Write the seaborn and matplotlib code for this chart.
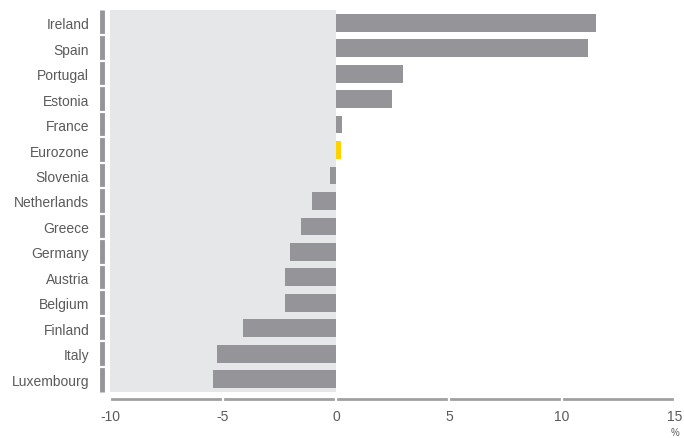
import numpy as np
import pandas as pd
import matplotlib
matplotlib.use("Agg")
import matplotlib.pyplot as plt
import seaborn as sns

countries = ["Ireland", "Spain", "Portugal", "Estonia", "France", "Eurozone",
             "Slovenia", "Netherlands", "Greece", "Germany", "Austria",
             "Belgium", "Finland", "Italy", "Luxembourg"]
values = [11.5, 11.15, 2.95, 2.5, 0.27, 0.2, -0.27, -1.06, -1.55, -2.03,
          -2.25, -2.25, -4.12, -5.27, -5.45]
xticks = [-10, -5, 0, 5, 10, 15]

GREY = "#959599"
YELLOW = "#ffd200"
SHADE = "#e6e7e8"
TEXT = "#5a5a5a"

df = pd.DataFrame({"country": countries, "value": values})
palette = {c: (YELLOW if c == "Eurozone" else GREY) for c in countries}

sns.set_style("white")
plt.rcParams["font.family"] = ["Liberation Sans", "DejaVu Sans"]

fig = plt.figure(figsize=(6.84, 4.39), dpi=100)
ax = fig.add_axes([0.1608, 0.1048, 0.8260, 0.8702])

ax.axvspan(-10, 0, color=SHADE, zorder=0, lw=0)
sns.barplot(data=df, y="country", x="value", hue="country", palette=palette,
            legend=False, orient="h", width=0.7, saturation=1, linewidth=0,
            ax=ax, zorder=2)

ax.set_xlim(-10, 15)
ax.set_ylim(len(countries) - 0.5, -0.5)
ax.set_xticks(xticks)
ax.set_xticklabels([str(t) for t in xticks])
ax.set_xlabel("")
ax.set_ylabel("")

for s in ["top", "right"]:
    ax.spines[s].set_visible(False)
ax.spines["bottom"].set_position(("outward", 5))
ax.spines["bottom"].set_color("#a0a0a4")
ax.spines["bottom"].set_linewidth(2)
ax.spines["bottom"].set_capstyle("butt")
ax.spines["left"].set_position(("outward", 6))
ax.spines["left"].set_color(GREY)
ax.spines["left"].set_linewidth(3.5)
ax.spines["left"].set_capstyle("butt")
# spines under the axis so the white ticks cut gaps into them
for s in ax.spines.values():
    s.set_zorder(1)
ax.xaxis.set_zorder(3)
ax.yaxis.set_zorder(3)

ax.tick_params(axis="x", bottom=True, direction="inout", length=7, width=1.6,
               color="white", labelsize=10, labelcolor=TEXT, pad=3.5)
ax.tick_params(axis="y", which="major", left=False, length=0, labelsize=10,
               labelcolor=TEXT, pad=9)
ax.set_yticks(np.arange(len(countries) - 1) + 0.5, minor=True)
ax.tick_params(axis="y", which="minor", left=True, direction="inout",
               length=9, width=1.6, color="white")

fig.text(675 / 684, 1 - 433 / 439, "%", ha="center", va="center",
         fontsize=7, color=TEXT)

fig.savefig("out.png", dpi=100)
